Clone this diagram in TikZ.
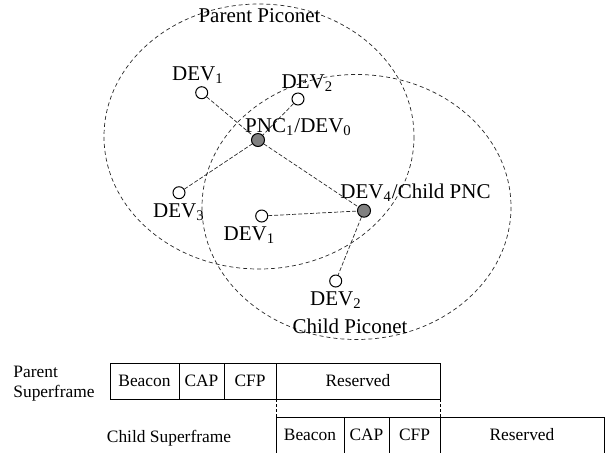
\documentclass[tikz,border=0pt]{standalone}
\usepackage{fontspec}
\setmainfont{Liberation Serif}
\usetikzlibrary{positioning}
\definecolor{pnGray}{RGB}{128,128,128}
\definecolor{pnLine}{RGB}{40,40,40}
\tikzset{
    dev/.style={circle, draw=black, fill=white, line width=0.5pt, inner sep=0pt, minimum size=6pt},
    pnc/.style={circle, draw=black, fill=pnGray, line width=0.5pt, inner sep=0pt, minimum size=6.5pt},
    link/.style={draw=pnLine, line width=0.35pt, dash pattern=on 2pt off 1pt},
    piconet/.style={draw=pnLine, line width=0.35pt, dash pattern=on 2pt off 1.5pt},
    lbl/.style={font=\fontsize{10.5}{12}\selectfont, inner sep=0pt, anchor=base},
    cell/.style={draw=black, line width=0.5pt, font=\fontsize{8.7}{10}\selectfont,
                 minimum height=18pt, inner sep=0pt, outer sep=0pt},
    gap/.style={draw=black, line width=0.35pt, dash pattern=on 1.5pt off 1pt}
}
\begin{document}
\begin{tikzpicture}[x=0.5pt, y=-0.5pt]
  \useasboundingbox (0,0) rectangle (610,452);
  % Piconets
  \draw[piconet] (259,136.5) ellipse [x radius=155, y radius=132.5];
  \draw[piconet] (356.5,207) ellipse [x radius=154.5, y radius=132.5];
  \node[lbl] (parentName) at (259.5,22) {Parent Piconet};
  \node[lbl] (childName) at (350,333) {Child Piconet};

  % Devices
  \node[dev] (d1) at (201.7,92.7) {};
  \node[dev] (d2) at (298,99) {};
  \node[pnc] (pnc) at (258,140) {};
  \node[dev] (d3) at (179,192.7) {};
  \node[dev] (d1b) at (261.7,216) {};
  \node[pnc] (d4) at (364,210.7) {};
  \node[dev] (d2b) at (335.7,281) {};

  \node[lbl] (d1Name) at (198,80.7) {DEV\textsubscript{1}};
  \node[lbl] (d2Name) at (307.5,88) {DEV\textsubscript{2}};
  \node[lbl] (pncName) at (298.5,132) {PNC\textsubscript{1}/DEV\textsubscript{0}};
  \node[lbl] (d3Name) at (179,217) {DEV\textsubscript{3}};
  \node[lbl] (d1bName) at (249.5,240) {DEV\textsubscript{1}};
  \node[lbl] (d4Name) at (415.5,198) {DEV\textsubscript{4}/Child PNC};
  \node[lbl] (d2bName) at (336,305) {DEV\textsubscript{2}};

  \draw[link] (d1) -- (pnc);
  \draw[link] (d2) -- (pnc);
  \draw[link] (d3) -- (pnc);
  \draw[link] (pnc) -- (d4);
  \draw[link] (d1b) -- (d4);
  \draw[link] (d4) -- (d2b);

  % Superframes
  \node[cell, minimum width=34.5pt, anchor=north west] (pBeacon) at (110,363) {Beacon};
  \node[cell, minimum width=22.5pt, right=0pt of pBeacon] (pCap) {CAP};
  \node[cell, minimum width=26pt, right=0pt of pCap] (pCfp) {CFP};
  \node[cell, minimum width=82pt, right=0pt of pCfp] (pRes) {Reserved};

  \node[cell, minimum width=34pt, anchor=north west] (cBeacon) at (276,417) {Beacon};
  \node[cell, minimum width=22.5pt, right=0pt of cBeacon] (cCap) {CAP};
  \node[cell, minimum width=25.5pt, right=0pt of cCap] (cCfp) {CFP};
  \node[cell, minimum width=82pt, right=0pt of cCfp] (cRes) {Reserved};

  \draw[gap] (pRes.south west) -- (cBeacon.north west);
  \draw[gap] (pRes.south east) -- (cRes.north west);

  \node[font=\fontsize{8.7}{10}\selectfont, align=left, anchor=base west, inner sep=0pt]
    (pName) at (13,397) {Parent\\Superframe};
  \node[font=\fontsize{8.7}{10}\selectfont, anchor=base, inner sep=0pt]
    (cName) at (169,442) {Child Superframe};
\end{tikzpicture}
\end{document}
